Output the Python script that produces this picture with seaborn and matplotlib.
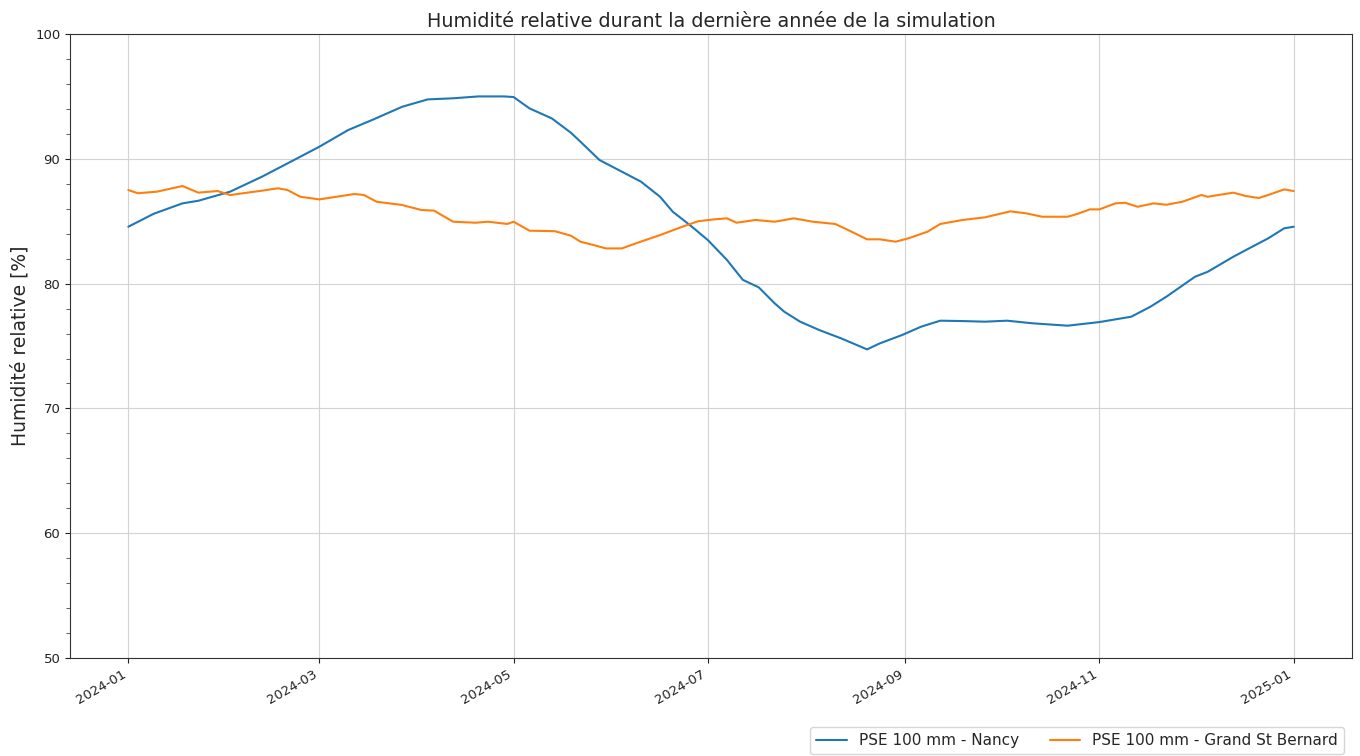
import matplotlib
matplotlib.use("Agg")
import matplotlib.pyplot as plt
import matplotlib.dates as mdates
from matplotlib.ticker import MultipleLocator
import numpy as np
import pandas as pd
import seaborn as sns

# Day offsets from 2024-01-01 and relative humidity [%]
nancy_days = [0, 8, 17, 22, 32, 42, 52, 60, 69, 77, 86, 94, 102, 110, 118, 121,
              126, 133, 139, 142, 148, 155, 161, 167, 171, 177, 182, 188, 193, 198,
              203, 206, 211, 217, 224, 232, 236, 243, 249, 255, 262, 269, 276, 284,
              295, 305, 315, 321, 326, 335, 339, 347, 353, 358, 363, 366]
nancy_rh = [84.56, 85.6, 86.43, 86.64, 87.37, 88.57, 89.9, 90.97, 92.3, 93.16, 94.17,
            94.76, 94.85, 95.0, 95.0, 94.95, 94.04, 93.24, 92.09, 91.37, 89.9, 88.97,
            88.17, 86.96, 85.76, 84.56, 83.49, 81.9, 80.3, 79.7, 78.42, 77.75, 76.95,
            76.28, 75.6, 74.73, 75.21, 75.88, 76.55, 77.03, 77.0, 76.95, 77.03, 76.82,
            76.63, 76.92, 77.35, 78.15, 78.95, 80.55, 80.95, 82.15, 82.96, 83.63,
            84.43, 84.56]

gsb_days = [0, 3, 9, 17, 22, 28, 32, 42, 47, 50, 54, 60, 71, 74, 78, 86, 92, 96,
            102, 109, 113, 119, 121, 126, 134, 139, 142, 146, 150, 155, 160, 167,
            174, 179, 184, 188, 191, 197, 203, 209, 215, 222, 226, 232, 236, 241,
            245, 251, 255, 262, 269, 277, 282, 287, 295, 298, 302, 305, 310, 313,
            317, 322, 326, 331, 337, 339, 347, 351, 355, 358, 363, 366]
gsb_rh = [87.5, 87.24, 87.37, 87.82, 87.29, 87.42, 87.1, 87.45, 87.64, 87.5, 86.96,
          86.75, 87.18, 87.1, 86.56, 86.3, 85.9, 85.85, 84.96, 84.88, 84.96, 84.78,
          84.96, 84.24, 84.2, 83.84, 83.36, 83.1, 82.82, 82.82, 83.28, 83.89, 84.56,
          85.0, 85.15, 85.23, 84.88, 85.1, 84.96, 85.23, 84.96, 84.78, 84.3, 83.55,
          83.55, 83.36, 83.63, 84.16, 84.78, 85.1, 85.31, 85.79, 85.63, 85.36, 85.36,
          85.58, 85.95, 85.95, 86.43, 86.48, 86.16, 86.43, 86.32, 86.56, 87.1, 86.96,
          87.29, 87.02, 86.86, 87.1, 87.55, 87.42]

series_labels = ["PSE 100 mm - Nancy", "PSE 100 mm - Grand St Bernard"]
start = pd.Timestamp("2024-01-01")

frames = []
for days, rh, lab in [(nancy_days, nancy_rh, series_labels[0]),
                      (gsb_days, gsb_rh, series_labels[1])]:
    frames.append(pd.DataFrame({
        "date": start + pd.to_timedelta(days, unit="D"),
        "rh": rh,
        "serie": lab,
    }))
df = pd.concat(frames, ignore_index=True)

sns.set_style("ticks")
plt.rcParams["font.family"] = ["DejaVu Sans"]

fig = plt.figure(figsize=(13.6, 7.56), dpi=100)
ax = fig.add_axes([0.0515, 0.1296, 0.9426, 0.8254])

sns.lineplot(data=df, x="date", y="rh", hue="serie", hue_order=series_labels,
             palette=["#1f77b4", "#ff7f0e"], linewidth=1.5, ax=ax, sort=True)

ax.set_ylim(50, 100)
ax.yaxis.set_major_locator(MultipleLocator(10))
ax.yaxis.set_minor_locator(MultipleLocator(2))
ax.xaxis.set_major_locator(mdates.MonthLocator(bymonth=[1, 3, 5, 7, 9, 11]))
ax.xaxis.set_major_formatter(mdates.DateFormatter("%Y-%m"))
ax.margins(x=0.05)
ax.grid(True, which="major", color="#d3d3d3", linewidth=0.8)
ax.set_axisbelow(True)

for lbl in ax.get_xticklabels():
    lbl.set_rotation(30)
    lbl.set_ha("right")
ax.tick_params(axis="both", labelsize=9.5, colors="#222222")
ax.tick_params(axis="y", which="minor", length=3, color="#444444")
for sp in ax.spines.values():
    sp.set_visible(True)
    sp.set_color("#333333")

ax.set_xlabel("")
ax.set_ylabel("Humidité relative [%]", fontsize=13.5)
ax.set_title("Humidité relative durant la dernière année de la simulation",
             fontsize=13.8, pad=5)

handles, labels = ax.get_legend_handles_labels()
ax.legend(handles, labels, loc="upper right", bbox_to_anchor=(1.0, -0.098),
          ncol=2, fontsize=11, frameon=True, title=None)

fig.savefig("out.png", dpi=100)
